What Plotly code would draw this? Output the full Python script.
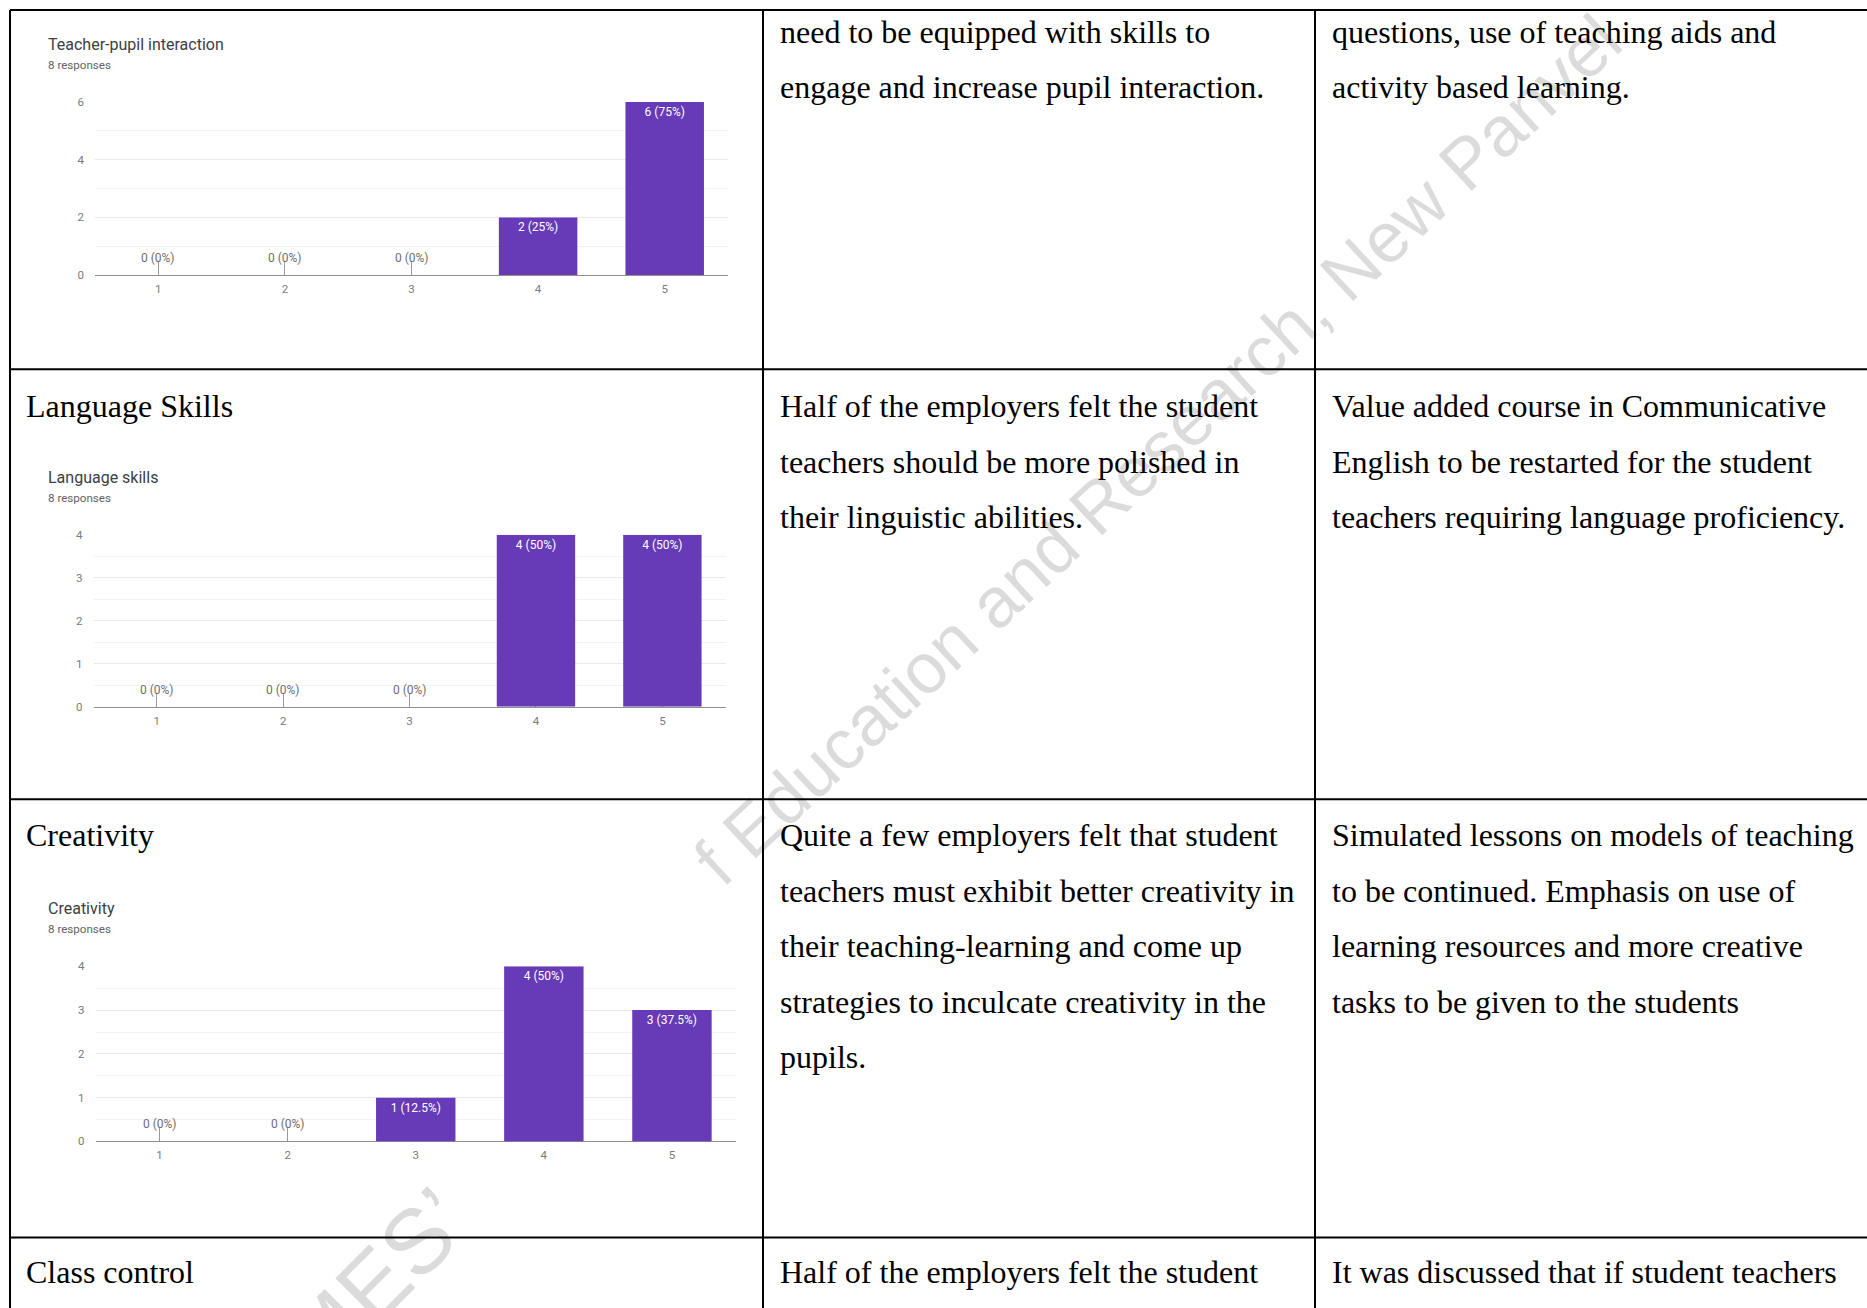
import plotly.graph_objects as go

W, H = 1867, 1308          # reference picture size
FIG_H = 1316               # figure height
Y_OFF, Y_SCALE = 7, 0.989  # measured: picture_y = Y_OFF + Y_SCALE * figure_y

# ---------------- data ----------------
categories = [1, 2, 3, 4, 5]
teacher_pupil = [0, 0, 0, 2, 6]
language_skills = [0, 0, 0, 4, 4]
creativity = [0, 0, 1, 4, 3]
responses = 8
chart_titles = ["Teacher-pupil interaction", "Language skills", "Creativity"]
series = [teacher_pupil, language_skills, creativity]
y_max = [6, 4, 4]
y_major = [2, 1, 1]
y_minor = [1, 0.5, 0.5]

row_headings = ["", "Language Skills", "Creativity", "Class control"]
observations = [
    ["need to be equipped with skills to",
     "engage and increase pupil interaction."],
    ["Half of the employers felt the student",
     "teachers should be more polished in",
     "their linguistic abilities."],
    ["Quite a few employers felt that student",
     "teachers must exhibit better creativity in",
     "their teaching-learning and come up",
     "strategies to inculcate creativity in the",
     "pupils."],
    ["Half of the employers felt the student"],
]
actions = [
    ["questions, use of teaching aids and",
     "activity based learning."],
    ["Value added course in Communicative",
     "English to be restarted for the student",
     "teachers requiring language proficiency."],
    ["Simulated lessons on models of teaching",
     "to be continued. Emphasis on use of",
     "learning resources and more creative",
     "tasks to be given to the students"],
    ["It was discussed that if student teachers"],
]
watermark_parts = ["MES\u2019", "f Education and Research, New Panvel"]

# ---------------- layout geometry (pixels of the picture) ----------------
def px(x):
    return x / W


def py(y):
    return 1 - ((y - Y_OFF) / Y_SCALE) / FIG_H


chart_boxes = [
    dict(x0=95, x1=728, y0=102, y1=275, title_y=44, sub_y=65),
    dict(x0=93.5, x1=725.6, y0=534.5, y1=706.5, title_y=477, sub_y=498),
    dict(x0=95.5, x1=736, y0=966, y1=1141, title_y=908, sub_y=929),
]
chart_title_x = 46

table_left, table_top = 10, 10
col_lines = [763, 1315]
row_lines = [369, 799, 1237]
row_first_line = [31.5, 406, 835, 1272]
line_step = 55.4
text_x = [24, 778, 1330]

PURPLE = "#673ab7"
GRID = "#e9e9e9"
GRID_MINOR = "#f2f2f2"
AXIS_TXT = "#7a7a7a"

fig = go.Figure()
annotations = []
shapes = []

# ---------------- watermark (behind everything else) ----------------
wm_sizes = [92, 71]
wm_pos = [(376, 1282), (1157, 450)]
wm_angles = [-45, -43]
for txt, size, ang, (cx, cy) in zip(watermark_parts, wm_sizes, wm_angles, wm_pos):
    annotations.append(dict(text=txt, x=px(cx), y=py(cy), xref="paper", yref="paper",
                            xanchor="center", yanchor="middle", showarrow=False,
                            textangle=ang,
                            font=dict(family="Liberation Sans, Arial, sans-serif",
                                      size=size, color="rgba(0,0,0,0.14)")))

# ---------------- charts ----------------
def pct(v):
    return f"{v / responses * 100:g}"


for i, (vals, title, box) in enumerate(zip(series, chart_titles, chart_boxes)):
    sfx = "" if i == 0 else str(i + 1)
    xa, ya = "x" + sfx, "y" + sfx
    labels = [f"{v} ({pct(v)}%)" if v > 0 else "" for v in vals]
    fig.add_trace(go.Bar(
        x=categories, y=vals, xaxis=xa, yaxis=ya,
        marker=dict(color=PURPLE, line=dict(width=0)),
        text=labels, textposition="inside", insidetextanchor="end",
        textfont=dict(family="Roboto", size=12, color="white"),
        constraintext="none", cliponaxis=False, showlegend=False,
        hoverinfo="skip",
    ))
    for c, v in zip(categories, vals):
        if v == 0:
            annotations.append(dict(text=f"{v} ({pct(v)}%)", x=c, y=0, xref=xa, yref=ya,
                                    yshift=17, showarrow=False, xanchor="center",
                                    yanchor="middle",
                                    font=dict(family="Roboto", size=12, color="#6e6e6e")))
    fig.layout["xaxis" + sfx] = dict(
        domain=[px(box["x0"]), px(box["x1"])], anchor=ya,
        range=[0.5, 5.5], tickmode="array", tickvals=categories,
        ticktext=[str(c) for c in categories],
        showgrid=False, zeroline=False,
        showline=True, linecolor="#8f8f8f", linewidth=1.3,
        ticks="inside", ticklen=13, tickwidth=1, tickcolor="#9a9a9a",
        tickfont=dict(family="Roboto", size=11.5, color=AXIS_TXT),
        ticklabelstandoff=3, layer="below traces", fixedrange=True,
    )
    fig.layout["yaxis" + sfx] = dict(
        domain=[py(box["y1"]), py(box["y0"])], anchor=xa,
        range=[0, y_max[i]], tick0=0, dtick=y_major[i],
        showgrid=True, gridcolor=GRID, gridwidth=1,
        minor=dict(dtick=y_minor[i], showgrid=True, gridcolor=GRID_MINOR, gridwidth=1),
        zeroline=False, showline=False, ticks="",
        tickfont=dict(family="Roboto", size=11.5, color=AXIS_TXT),
        ticklabelstandoff=10, layer="below traces", fixedrange=True,
    )
    annotations.append(dict(text=title, x=px(chart_title_x), y=py(box["title_y"]),
                            xref="paper", yref="paper", xanchor="left", yanchor="middle",
                            showarrow=False,
                            font=dict(family="Roboto", size=16, color="#3c4043")))
    annotations.append(dict(text=f"{responses} responses", x=px(chart_title_x),
                            y=py(box["sub_y"]), xref="paper", yref="paper",
                            xanchor="left", yanchor="middle", showarrow=False,
                            font=dict(family="Roboto", size=11.6, color="#5f6368")))

# ---------------- table text ----------------
body_font = dict(family="Liberation Serif, Times New Roman, serif", size=32, color="black")
for r in range(4):
    cells = [[row_headings[r]] if row_headings[r] else [], observations[r], actions[r]]
    for c, lines in enumerate(cells):
        for k, line in enumerate(lines):
            annotations.append(dict(text=line, x=px(text_x[c]),
                                    y=py(row_first_line[r] + k * line_step),
                                    xref="paper", yref="paper", xanchor="left",
                                    yanchor="middle", showarrow=False, font=body_font))

# ---------------- table borders ----------------
lw = 2
shapes.append(dict(type="line", xref="paper", yref="paper", x0=px(table_left), x1=1,
                   y0=py(table_top), y1=py(table_top), line=dict(color="black", width=lw)))
shapes.append(dict(type="line", xref="paper", yref="paper", x0=px(table_left), x1=px(table_left),
                   y0=py(table_top), y1=0, line=dict(color="black", width=lw)))
for cx in col_lines:
    shapes.append(dict(type="line", xref="paper", yref="paper", x0=px(cx), x1=px(cx),
                       y0=py(table_top), y1=0, line=dict(color="black", width=lw)))
for ry in row_lines:
    shapes.append(dict(type="line", xref="paper", yref="paper", x0=px(table_left), x1=1,
                       y0=py(ry), y1=py(ry), line=dict(color="black", width=lw)))

fig.update_layout(
    width=W, height=FIG_H, margin=dict(l=0, r=0, t=0, b=0),
    paper_bgcolor="white", plot_bgcolor="white",
    bargap=0.38, annotations=annotations, shapes=shapes, showlegend=False,
)

fig.write_html("out.html", config=dict(displayModeBar=False))
